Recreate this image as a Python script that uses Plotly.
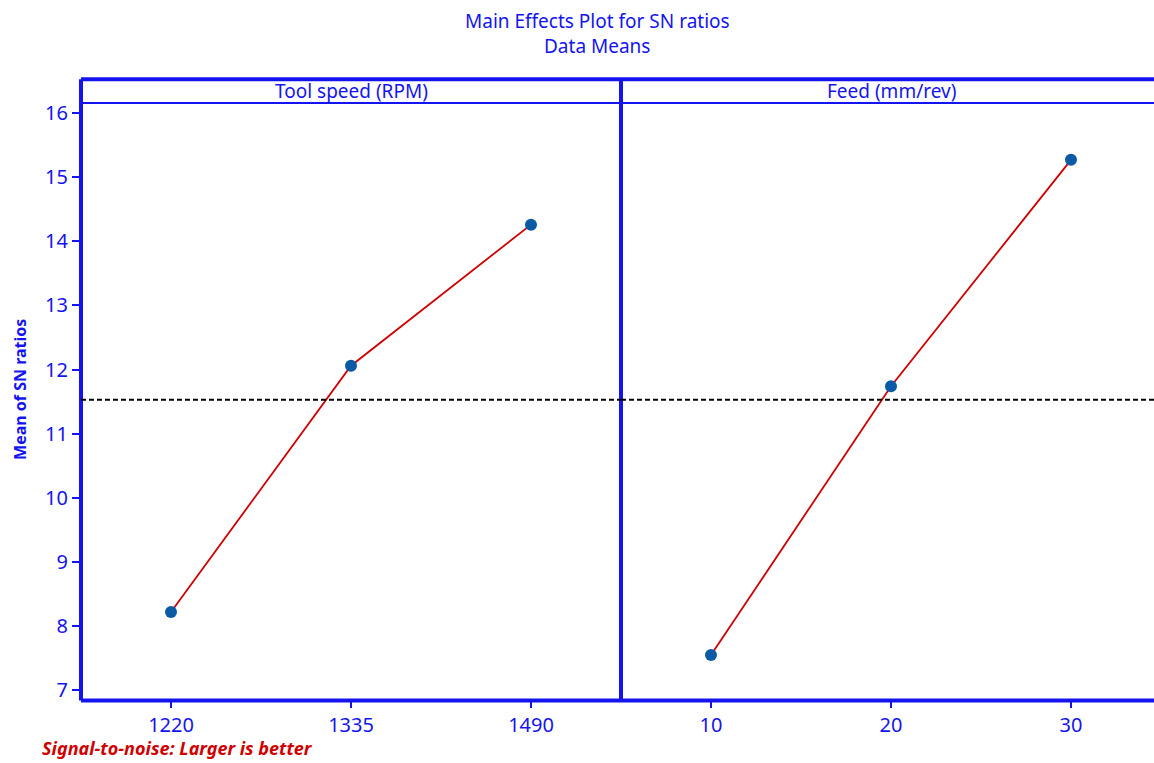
import plotly.graph_objects as go

W, H = 1154, 763

# ---- data ----
tool_speed_levels = ["1220", "1335", "1490"]
tool_speed_sn = [8.22, 12.06, 14.26]
feed_levels = ["10", "20", "30"]
feed_sn = [7.55, 11.74, 15.27]
overall_mean = 11.53
y_ticks = [7, 8, 9, 10, 11, 12, 13, 14, 15, 16]
panel_titles = ["Tool speed (RPM)", "Feed (mm/rev)"]

BLUE = "#1414F0"
RED = "#D00000"
MARK = "#0B5AA6"
FONT = "Noto Sans"

def px(x):
    return x / W

def py(y):
    return 1 - y / H

left, mid, right = 81, 621, 1154
top, strip, bottom = 76, 100, 703

fig = go.Figure()
fig.add_trace(go.Scatter(
    x=list(range(len(tool_speed_levels))), y=tool_speed_sn, mode="lines+markers",
    line=dict(color=RED, width=1.8), marker=dict(color=MARK, size=12),
    xaxis="x", yaxis="y", showlegend=False, hoverinfo="skip"))
fig.add_trace(go.Scatter(
    x=list(range(len(feed_levels))), y=feed_sn, mode="lines+markers",
    line=dict(color=RED, width=1.8), marker=dict(color=MARK, size=12),
    xaxis="x2", yaxis="y", showlegend=False, hoverinfo="skip"))

xtickfont = dict(family=FONT, size=20, color=BLUE)
ytickfont = dict(family=FONT, size=20, color=BLUE)
common_x = dict(showgrid=False, zeroline=False, showline=False,
                ticks="outside", ticklen=6, tickwidth=2, tickcolor=BLUE,
                tickfont=xtickfont, tickvals=[0, 1, 2], fixedrange=True)

x_units = (mid - left) / 3.0
fig.update_layout(
    width=W, height=H,
    margin=dict(l=0, r=0, t=0, b=0),
    paper_bgcolor="white", plot_bgcolor="white",
    font=dict(family=FONT, color=BLUE),
    xaxis=dict(domain=[px(left), px(mid)], range=[-0.5, 2.5], anchor="y",
               ticktext=tool_speed_levels, **common_x),
    xaxis2=dict(domain=[px(mid), 1], range=[-0.5, -0.5 + (right - mid) / x_units],
                anchor="y", ticktext=feed_levels, **common_x),
    yaxis=dict(domain=[py(bottom), py(strip)], range=[6.84, 16.155], anchor="x",
               showgrid=False, zeroline=False, showline=False,
               ticks="outside", ticklen=8, tickwidth=2, tickcolor=BLUE,
               tickvals=y_ticks, tickfont=ytickfont, fixedrange=True),
)

shapes = []
line_thick = dict(color=BLUE, width=4)
shapes.append(dict(type="line", xref="paper", yref="paper", x0=px(left), x1=1,
                   y0=py(top), y1=py(top), line=line_thick))
shapes.append(dict(type="line", xref="paper", yref="paper", x0=px(left), x1=1,
                   y0=py(strip), y1=py(strip), line=dict(color=BLUE, width=2)))
shapes.append(dict(type="line", xref="paper", yref="paper", x0=px(left), x1=1,
                   y0=py(bottom), y1=py(bottom), line=line_thick))
shapes.append(dict(type="line", xref="paper", yref="paper", x0=px(left), x1=px(left),
                   y0=py(top), y1=py(bottom), line=line_thick))
shapes.append(dict(type="line", xref="paper", yref="paper", x0=px(mid), x1=px(mid),
                   y0=py(top), y1=py(bottom), line=line_thick))
for xr in ["x domain", "x2 domain"]:
    shapes.append(dict(type="line", xref=xr, yref="y", x0=0, x1=1,
                       y0=overall_mean, y1=overall_mean,
                       line=dict(color="black", width=2, dash="5px,3px")))
fig.update_layout(shapes=shapes)

ann = []
title_font = dict(family=FONT, size=19, color=BLUE)
ann.append(dict(text="Main Effects Plot for SN ratios", x=px(597), y=py(17),
                xref="paper", yref="paper", showarrow=False, font=title_font,
                xanchor="center", yanchor="middle"))
ann.append(dict(text="Data Means", x=px(597), y=py(42),
                xref="paper", yref="paper", showarrow=False, font=title_font,
                xanchor="center", yanchor="middle"))
ann.append(dict(text=panel_titles[0], x=0.5, xref="x domain", y=py(88), yref="paper",
                xanchor="center", yanchor="middle",
                showarrow=False, font=dict(family=FONT, size=19, color=BLUE)))
ann.append(dict(text=panel_titles[1], x=1, xref="x2", y=py(88), yref="paper",
                xanchor="center", yanchor="middle",
                showarrow=False, font=dict(family=FONT, size=19, color=BLUE)))
ann.append(dict(text="<b>Mean of SN ratios</b>", x=px(20.5), y=py(389), xref="paper", yref="paper",
                xanchor="center", yanchor="middle",
                textangle=-90, showarrow=False, font=dict(family=FONT, size=16, color=BLUE)))
ann.append(dict(text="<b><i>Signal-to-noise: Larger is better</i></b>", x=px(40), y=py(751),
                xref="paper", yref="paper", xanchor="left", yanchor="middle", showarrow=False,
                font=dict(family=FONT, size=18, color=RED)))
fig.update_layout(annotations=ann)

fig.write_html("out.html")
